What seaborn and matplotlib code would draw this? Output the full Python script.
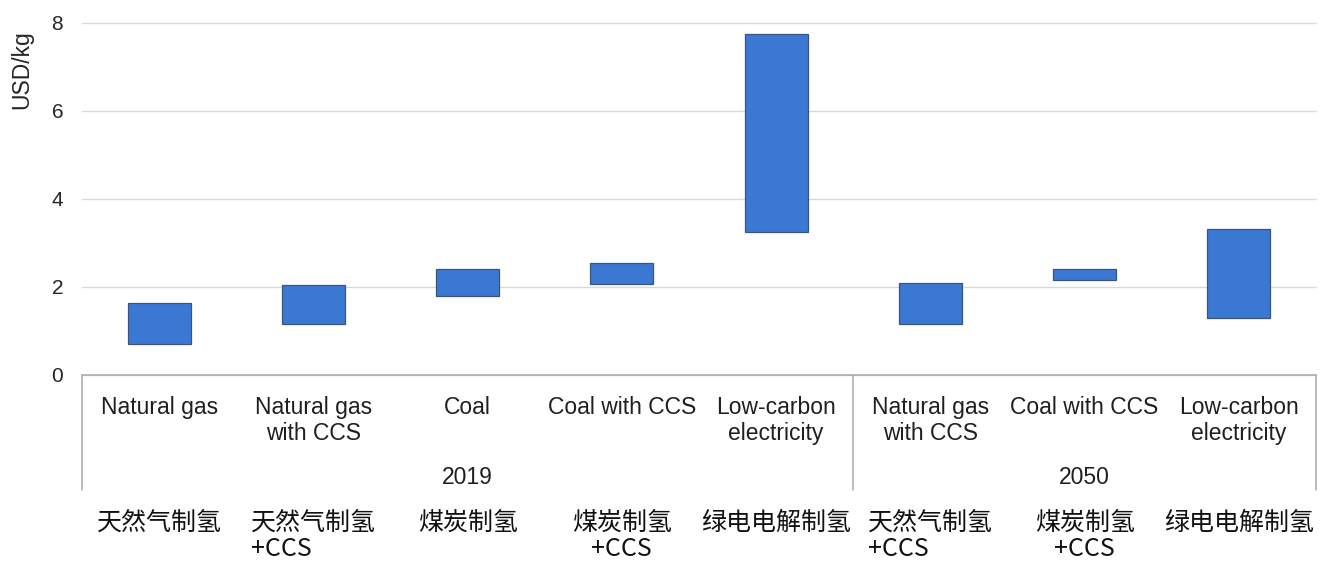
import matplotlib
matplotlib.use("Agg")
import matplotlib.pyplot as plt
import matplotlib.transforms as mtransforms
from matplotlib.lines import Line2D
import pandas as pd
import seaborn as sns

# Hydrogen production cost ranges (USD/kg) by route, 2019 vs 2050
years = ["2019", "2019", "2019", "2019", "2019", "2050", "2050", "2050"]
routes_en = ["Natural gas", "Natural gas\nwith CCS", "Coal", "Coal with CCS",
             "Low-carbon\nelectricity", "Natural gas\nwith CCS", "Coal with CCS",
             "Low-carbon\nelectricity"]
routes_cn = ["天然气制氢", "天然气制氢\n+CCS", "煤炭制氢", "煤炭制氢\n+CCS", "绿电电解制氢",
             "天然气制氢\n+CCS", "煤炭制氢\n+CCS", "绿电电解制氢"]
cost_low = [0.70, 1.17, 1.80, 2.07, 3.24, 1.16, 2.15, 1.30]
cost_high = [1.63, 2.04, 2.41, 2.55, 7.75, 2.10, 2.41, 3.32]
y_ticks = [0, 2, 4, 6, 8]
y_title = "USD/kg"

df = pd.DataFrame({
    "key": [f"{y} {r}" for y, r in zip(years, routes_en)],
    "low": cost_low,
    "span": [h - l for h, l in zip(cost_high, cost_low)],
})
order = list(df["key"])

sns.set_theme(style="white")
plt.rcParams["font.family"] = ["Liberation Sans", "Noto Sans CJK SC", "DejaVu Sans"]

W, H = 1331, 561
fig = plt.figure(figsize=(W / 100, H / 100), dpi=100)
fig.patch.set_facecolor("white")
x0, x1, y0, y1 = 82, 1316, 375, 23  # plot area in pixels
ax = fig.add_axes([x0 / W, 1 - y0 / H, (x1 - x0) / W, (y0 - y1) / H])

sns.barplot(data=df, x="key", y="span", order=order, bottom=df["low"].values,
            color="#3B78D3", saturation=1, width=0.41, errorbar=None,
            edgecolor="#3A5480", linewidth=0.9, ax=ax)

ax.set_xlim(-0.5, len(order) - 0.5)
ax.set_ylim(0, 8)
ax.set_yticks(y_ticks)
ax.set_yticklabels([str(t) for t in y_ticks], fontsize=15, color="#262626")
ax.tick_params(axis="y", length=0, pad=13.5)
ax.set_xticks([])
ax.set_xlabel("")
ax.set_ylabel("")
ax.yaxis.grid(True, color="#D9D9D9", linewidth=1.0)
for gl in ax.get_ygridlines():
    gl.set_clip_on(False)
ax.set_axisbelow(True)

box_col = "#A9A9A9"
for side in ["top", "left", "right"]:
    ax.spines[side].set_visible(False)
ax.spines["bottom"].set_color(box_col)
ax.spines["bottom"].set_linewidth(1.1)

ph = y0 - y1  # axes height in pixels


def fy(py):
    return (y0 - py) / ph


trans = mtransforms.blended_transform_factory(ax.transData, ax.transAxes)

# category table borders below the axis
for xb in [-0.5, 4.5, len(order) - 0.5]:
    ax.add_line(Line2D([xb, xb], [0, fy(490)], transform=trans, color=box_col,
                       linewidth=1.1, clip_on=False))

# English route labels
for i, lab in enumerate(routes_en):
    ax.text(i, fy(396), lab, transform=trans, ha="center", va="top",
            fontsize=16.5, color="#1F1F1F", linespacing=1.16, clip_on=False)

# year group labels
groups = {}
for i, y in enumerate(years):
    groups.setdefault(y, []).append(i)
for y, idx in groups.items():
    ax.text(sum(idx) / len(idx), fy(484), y, transform=trans, ha="center",
            va="baseline", fontsize=16.5, color="#1F1F1F", clip_on=False)

# Chinese route labels
cn_align = ["center", "left", "center", "center", "center", "left", "center", "center"]
for i, lab in enumerate(routes_cn):
    ax.text(i, fy(510), lab, transform=trans, ha="center", va="top",
            fontsize=18, color="#111111", multialignment=cn_align[i],
            linespacing=1.02, family=["Noto Sans CJK SC", "Liberation Sans"],
            clip_on=False)

fig.text(22 / W, 1 - 70 / H, y_title, rotation=90, ha="center", va="center",
         fontsize=16.5, color="#262626")

fig.savefig("out.png", dpi=100, facecolor="white")
